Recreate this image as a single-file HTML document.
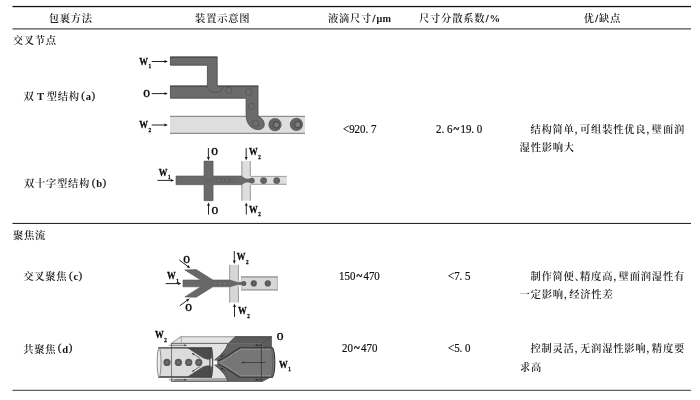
<!DOCTYPE html>
<html lang="zh-CN">
<head>
<meta charset="utf-8">
<title>液滴包裹方法对比</title>
<style>
html,body{margin:0;padding:0;background:#fff;}
body{width:700px;height:400px;position:relative;overflow:hidden;}
#fig{position:absolute;left:0;top:0;width:700px;height:400px;}
#sheet{position:absolute;left:0;top:0;width:700px;height:400px;filter:blur(0.3px);}
.t{position:absolute;white-space:nowrap;margin:0;font-family:"Liberation Serif","Noto Serif CJK SC",serif;font-size:10.3px;line-height:16px;height:16px;color:#1c1c1c;font-weight:600;letter-spacing:0.75px;}
.t .l{font-weight:400;color:#141414;display:inline-block;font-size:11px;-webkit-text-stroke:0.25px #141414;}
.t .pr{position:relative;top:-1.1px;}
.t .sl{font-size:12.5px;font-weight:400;-webkit-text-stroke:0.3px #1a1a1a;}
.t .lt{font-weight:700;-webkit-text-stroke:0;font-size:10.6px;}
.t .lb{font-weight:700;color:#1a1a1a;font-size:10.2px;display:inline-block;}
.t.n{font-weight:400;color:#141414;letter-spacing:0;font-size:12px;transform:scaleX(0.91);transform-origin:0 50%;-webkit-text-stroke:0.22px #141414;}
.t .p{display:inline-block;width:5.5px;letter-spacing:0;font-feature-settings:"halt" 1;}
svg text.w{font-family:"Liberation Serif",serif;font-weight:bold;font-size:11px;fill:#0a0a0a;stroke:#0a0a0a;stroke-width:0.28px;}
svg text .s{font-size:6.6px;}
</style>
</head>
<body>
<div id="sheet">
<svg id="fig" width="700" height="400" viewBox="0 0 700 400">
<rect x="12.5" y="5.9" width="678.5" height="1.3" fill="#141414"/>
<rect x="12.5" y="28.1" width="678.5" height="1.5" fill="#6a6a6a"/>
<rect x="12.5" y="222.9" width="678.5" height="1.05" fill="#202020"/>
<rect x="12.5" y="389.8" width="678.5" height="1.0" fill="#3a3a3a"/>
<g id="dia-a">
<rect x="170" y="116.1" width="135" height="17.5" fill="#dedede"/>
<rect x="170" y="115.8" width="135" height="1.1" fill="#848484"/>
<rect x="170" y="132.8" width="135" height="1.1" fill="#848484"/>
<path d="M170.4 56.9H217.2V85.9H258V116 C261.8 118 264.6 121 264.2 125 C263.8 128.8 260 130 256 129.3 C249.4 127.8 246.1 122 246.1 114 V98.2H170.4V85.9H207.4V65.2H170.4Z" fill="#6b6b6b" stroke="#484848" stroke-width="0.8" stroke-linejoin="miter"/>
<path d="M170 57.2H217.4 M170 86.2H207 M217.6 86.2H258.3" stroke="#454545" stroke-width="0.9" fill="none"/>
<path d="M207.3 86.4 C208 90.8 212.6 93.2 217.4 92.4 C220.4 91.9 222.4 89.8 222.4 87.2" stroke="#4c4c4c" stroke-width="0.8" fill="none"/>
<circle cx="228.8" cy="90.2" r="3.1" fill="#6d6d6d" stroke="#505050" stroke-width="0.7"/>
<circle cx="248.8" cy="92.0" r="3.3" fill="#6d6d6d" stroke="#505050" stroke-width="0.7"/>
<circle cx="251.5" cy="106.5" r="3.1" fill="#6d6d6d" stroke="#505050" stroke-width="0.7"/>
<circle cx="255.6" cy="123.4" r="3.4" fill="#6d6d6d" stroke="#505050" stroke-width="0.7"/>
<circle cx="275.0" cy="124.6" r="6.6" fill="#626262"/>
<circle cx="276.4" cy="124.89999999999999" r="3.1" fill="#7c7c7c" stroke="#3e3e3e" stroke-width="0.9"/>
<circle cx="296.4" cy="124.4" r="6.6" fill="#626262"/>
<circle cx="297.79999999999995" cy="124.7" r="3.1" fill="#7c7c7c" stroke="#3e3e3e" stroke-width="0.9"/>
<line x1="151.70" y1="61.50" x2="165.50" y2="61.50" stroke="#1a1a1a" stroke-width="0.95"/><polygon points="167.90,61.50 164.50,62.95 164.50,60.05" fill="#1a1a1a"/>
<line x1="151.70" y1="93.60" x2="165.50" y2="93.60" stroke="#1a1a1a" stroke-width="0.95"/><polygon points="167.90,93.60 164.50,95.05 164.50,92.15" fill="#1a1a1a"/>
<line x1="151.70" y1="125.00" x2="165.50" y2="125.00" stroke="#1a1a1a" stroke-width="0.95"/><polygon points="167.90,125.00 164.50,126.45 164.50,123.55" fill="#1a1a1a"/>
<text class="w" transform="translate(139.30 64.60) scale(0.79 1)">W<tspan class="s" dx="0.7" dy="3.3">1</tspan></text>
<text class="w" transform="translate(143.30 97.00) scale(0.79 1)">O</text>
<text class="w" transform="translate(139.30 128.20) scale(0.79 1)">W<tspan class="s" dx="0.7" dy="3.3">2</tspan></text>
</g>
<g id="dia-b">
<rect x="241.4" y="161.1" width="9.3" height="39.6" fill="#dedede"/>
<path d="M241.9 161.1V200.7 M250.3 161.1V176 M250.3 184.7V200.7" stroke="#a2a2a2" stroke-width="1.1" fill="none"/>
<rect x="250.2" y="176" width="36.5" height="8.7" fill="#dedede"/>
<path d="M250.7 176.4H286.7 M250.7 184.3H286.7" stroke="#a0a0a0" stroke-width="1" fill="none"/>
<path d="M176 176H204V161.1H213.1V176H241.4 C243.4 177.6 245 179 247 179.1 H251 V182.1 H247 C245 182.2 243.4 183.4 241.4 184.7 H213.1V200.7H204V184.7H176Z" fill="#6a6a6a" stroke="#545454" stroke-width="0.6"/>
<ellipse cx="218.2" cy="180.4" rx="2.0" ry="2.1" fill="#6e6e6e" stroke="#565656" stroke-width="0.6"/>
<ellipse cx="222.8" cy="180.4" rx="2.0" ry="2.1" fill="#6e6e6e" stroke="#565656" stroke-width="0.6"/>
<ellipse cx="227.6" cy="180.4" rx="2.0" ry="2.1" fill="#6e6e6e" stroke="#565656" stroke-width="0.6"/>
<ellipse cx="232.2" cy="180.4" rx="2.0" ry="2.1" fill="#6e6e6e" stroke="#565656" stroke-width="0.6"/>
<path d="M205 178.4L208.6 180.4L205 182.4 M212.4 178.4L208.8 180.4L212.4 182.4 M236 178.6L238.6 180.4L236 182.2" stroke="#5a5a5a" stroke-width="0.6" fill="none"/>
<circle cx="251.8" cy="180.6" r="2.9" fill="#626262"/>
<circle cx="263.6" cy="180.6" r="3.4" fill="#626262"/>
<circle cx="276.7" cy="180.6" r="3.4" fill="#626262"/>
<line x1="208.40" y1="148.00" x2="208.40" y2="158.00" stroke="#1a1a1a" stroke-width="0.95"/><polygon points="208.40,160.40 206.95,157.00 209.85,157.00" fill="#1a1a1a"/>
<line x1="246.20" y1="148.00" x2="246.20" y2="158.00" stroke="#1a1a1a" stroke-width="0.95"/><polygon points="246.20,160.40 244.75,157.00 247.65,157.00" fill="#1a1a1a"/>
<line x1="208.50" y1="214.60" x2="208.50" y2="204.80" stroke="#1a1a1a" stroke-width="0.95"/><polygon points="208.50,202.40 209.95,205.80 207.05,205.80" fill="#1a1a1a"/>
<line x1="246.30" y1="214.60" x2="246.30" y2="204.80" stroke="#1a1a1a" stroke-width="0.95"/><polygon points="246.30,202.40 247.75,205.80 244.85,205.80" fill="#1a1a1a"/>
<line x1="157.50" y1="180.40" x2="171.80" y2="180.40" stroke="#1a1a1a" stroke-width="0.95"/><polygon points="174.20,180.40 170.80,181.85 170.80,178.95" fill="#1a1a1a"/>
<text class="w" transform="translate(211.30 155.40) scale(0.79 1)">O</text>
<text class="w" transform="translate(248.90 155.40) scale(0.79 1)">W<tspan class="s" dx="0.7" dy="3.3">2</tspan></text>
<text class="w" transform="translate(211.60 213.50) scale(0.79 1)">O</text>
<text class="w" transform="translate(249.10 213.00) scale(0.79 1)">W<tspan class="s" dx="0.7" dy="3.3">2</tspan></text>
<text class="w" transform="translate(158.70 175.80) scale(0.79 1)">W<tspan class="s" dx="0.7" dy="3.3">1</tspan></text>
</g>
<g id="dia-c">
<rect x="229.2" y="264.8" width="9.6" height="37.7" fill="#d7d7d7"/>
<path d="M229.7 264.8V302.5 M238.4 264.8V280.6 M238.4 286.6V302.5" stroke="#9c9c9c" stroke-width="1" fill="none"/>
<rect x="238.6" y="280.6" width="3" height="6" fill="#d7d7d7"/>
<rect x="241" y="276.3" width="36.8" height="14.2" fill="#d7d7d7"/>
<path d="M241 277H277.8 M241 289.9H277.8" stroke="#9c9c9c" stroke-width="1.3" fill="none"/>
<path d="M241.4 276.3V280.6 M241.4 286.6V290.5 M277.4 276.3V290.5" stroke="#b0b0b0" stroke-width="0.8" fill="none"/>
<path d="M183 280H200.7L184.8 269.9L196.2 269.6L212.9 280H229.4 C233 280.8 236 282.3 239 282.5 H243 V284.4 H239 C236 284.6 233 286 229.4 286.8 H212.9L196.2 297.2L184.8 296.9L200.7 286.8H183Z" fill="#686868" stroke="#545454" stroke-width="0.6"/>
<ellipse cx="215.5" cy="283.4" rx="2" ry="1.8" fill="#747474" stroke="#585858" stroke-width="0.6"/>
<ellipse cx="220.2" cy="283.4" rx="2" ry="1.8" fill="#747474" stroke="#585858" stroke-width="0.6"/>
<ellipse cx="224.8" cy="283.4" rx="2" ry="1.8" fill="#747474" stroke="#585858" stroke-width="0.6"/>
<circle cx="243.8" cy="283.4" r="2.5" fill="#585858"/>
<circle cx="243.8" cy="283.4" r="1" fill="#6e6e6e"/>
<circle cx="253.8" cy="283.4" r="3.1" fill="#585858"/>
<circle cx="253.8" cy="283.4" r="1" fill="#6e6e6e"/>
<circle cx="267.8" cy="283.4" r="3.1" fill="#585858"/>
<circle cx="267.8" cy="283.4" r="1" fill="#6e6e6e"/>
<line x1="234.30" y1="251.00" x2="234.30" y2="261.60" stroke="#1a1a1a" stroke-width="0.95"/><polygon points="234.30,264.00 232.85,260.60 235.75,260.60" fill="#1a1a1a"/>
<line x1="234.50" y1="317.00" x2="234.50" y2="306.00" stroke="#1a1a1a" stroke-width="0.95"/><polygon points="234.50,303.60 235.95,307.00 233.05,307.00" fill="#1a1a1a"/>
<line x1="165.70" y1="283.60" x2="179.00" y2="283.60" stroke="#1a1a1a" stroke-width="0.95"/><polygon points="181.40,283.60 178.00,285.05 178.00,282.15" fill="#1a1a1a"/>
<line x1="179.30" y1="260.00" x2="188.28" y2="266.76" stroke="#1a1a1a" stroke-width="0.95"/><polygon points="190.20,268.20 186.61,267.31 188.35,265.00" fill="#1a1a1a"/>
<line x1="179.70" y1="305.80" x2="187.66" y2="300.01" stroke="#1a1a1a" stroke-width="0.95"/><polygon points="189.60,298.60 187.70,301.77 186.00,299.43" fill="#1a1a1a"/>
<text class="w" transform="translate(236.70 260.20) scale(0.79 1)">W<tspan class="s" dx="0.7" dy="3.3">2</tspan></text>
<text class="w" transform="translate(237.90 314.30) scale(0.79 1)">W<tspan class="s" dx="0.7" dy="3.3">2</tspan></text>
<text class="w" transform="translate(166.90 279.20) scale(0.79 1)">W<tspan class="s" dx="0.7" dy="3.3">1</tspan></text>
<text class="w" transform="translate(183.30 263.20) scale(0.79 1)">O</text>
<text class="w" transform="translate(185.30 310.60) scale(0.79 1)">O</text>
</g>
<g id="dia-d">
<polygon points="171.4,343.4 181.3,336.3 271.8,336.3 262.4,343.4" fill="#d2d2d2"/>
<polygon points="174.5,342.0 180.8,338.0 268,338.0 263,342.0" fill="#e4e4e4"/>
<rect x="171.4" y="343.4" width="91" height="38.2" fill="#e2e2e2"/>
<polygon points="171.4,381.8 262.4,381.8 271.6,376.8 176,379.0" fill="#a4a4a4"/>
<polygon points="227.8,343.6 234.9,336.5 271.9,336.5 271.9,376.8 262.4,381.8 262.4,343.6" fill="#5c5c5c"/>
<path d="M227.8 343.6 H262.4 V381.8 H228 C226.6 376 221.5 370 214.6 365 V360 C221.5 355 226.4 349 227.8 343.6Z" fill="#626262"/>
<path d="M227.8 343.6 C226.4 349 221.5 355 214.6 360 M214.6 365 C221.5 370 226.6 376 228 381.8" stroke="#3a3a3a" stroke-width="0.8" fill="none"/>
<path d="M171.4 343.5H262.4" stroke="#6a6a6a" stroke-width="0.9"/>
<path d="M181.3 336.6H235" stroke="#a0a0a0" stroke-width="0.8"/>
<path d="M235 336.8H271.8" stroke="#3e3e3e" stroke-width="0.9"/>
<path d="M181.3 336.4V343.4" stroke="#8a8a8a" stroke-width="0.6" fill="none"/>
<path d="M171.4 343.2L181.3 336.3" stroke="#7a7a7a" stroke-width="0.7"/>
<path d="M171.4 381.4H262.4" stroke="#666" stroke-width="1"/>
<path d="M262.4 343.5L271.8 336.6" stroke="#444" stroke-width="0.6"/>
<path d="M217.4 361 C224 359.4 231 353 240 347.7 H272.4 C275.6 352 275.6 373 272.4 377.3 H240 C231 372 224 365.6 217.4 364Z" fill="#767676" stroke="#323232" stroke-width="1.1"/>
<path d="M221 361.4 C227 359 233 353.6 241 349.4 H271" stroke="#b8b8b8" stroke-width="0.6" stroke-dasharray="1.6 1.2" fill="none"/>
<path d="M221 363.6 C227 366 233 371.4 241 375.6 H271" stroke="#b8b8b8" stroke-width="0.6" stroke-dasharray="1.6 1.2" fill="none"/>
<path d="M261.4 343.6V381.6" stroke="#383838" stroke-width="0.8"/>
<path d="M271.4 347.8 C273 354 273 371 271.4 377.2" stroke="#5a5a5a" stroke-width="0.8" fill="none"/>
<line x1="265.60" y1="362.50" x2="243.00" y2="362.50" stroke="#2e2e2e" stroke-width="0.7"/><polygon points="241.00,362.50 244.00,361.40 244.00,363.60" fill="#2e2e2e"/>
<line x1="263.00" y1="345.20" x2="256.40" y2="345.20" stroke="#2a2a2a" stroke-width="0.6"/><polygon points="254.80,345.20 257.40,344.20 257.40,346.20" fill="#2a2a2a"/>
<line x1="263.00" y1="379.80" x2="256.40" y2="379.80" stroke="#2a2a2a" stroke-width="0.6"/><polygon points="254.80,379.80 257.40,378.80 257.40,380.80" fill="#2a2a2a"/>
<line x1="225.00" y1="354.20" x2="221.57" y2="356.44" stroke="#2a2a2a" stroke-width="0.6"/><polygon points="220.40,357.20 221.86,355.05 222.96,356.73" fill="#2a2a2a"/>
<line x1="225.00" y1="370.80" x2="221.57" y2="368.56" stroke="#2a2a2a" stroke-width="0.6"/><polygon points="220.40,367.80 222.96,368.27 221.86,369.95" fill="#2a2a2a"/>
<rect x="158.4" y="347.6" width="53.4" height="29.6" fill="#dcdcdc"/>
<path d="M187.4 348 L203.2 358.2 L207 359.4 H212 V348Z" fill="#4c4c4c"/>
<path d="M187.4 376.8 L203.2 366.6 L207 365.4 H212 V376.8Z" fill="#4c4c4c"/>
<path d="M158.2 347.9H212 M158.2 377H212" stroke="#3a3a3a" stroke-width="1.3" fill="none"/>
<ellipse cx="159.1" cy="362.4" rx="1.9" ry="14.4" fill="#ececec" stroke="#808080" stroke-width="0.9"/>
<ellipse cx="211.3" cy="362.4" rx="1.5" ry="14.5" fill="#565656" stroke="#3a3a3a" stroke-width="0.8"/>
<ellipse cx="211.2" cy="362.4" rx="0.7" ry="4.6" fill="#f2f2f2"/>
<rect x="213.7" y="360.6" width="3.7" height="3.9" fill="#fbfbfb"/>
<path d="M171.5 342.8V381.6" stroke="#505050" stroke-width="0.7"/>
<circle cx="167.0" cy="362.4" r="3.6" fill="#5a5a5a"/>
<circle cx="167.0" cy="362.4" r="1.2" fill="#7a7a7a"/>
<circle cx="178.4" cy="362.4" r="3.6" fill="#5a5a5a"/>
<circle cx="178.4" cy="362.4" r="1.2" fill="#7a7a7a"/>
<circle cx="188.7" cy="362.4" r="3.6" fill="#5a5a5a"/>
<circle cx="188.7" cy="362.4" r="1.2" fill="#7a7a7a"/>
<circle cx="198.8" cy="362.4" r="3.6" fill="#5a5a5a"/>
<circle cx="198.8" cy="362.4" r="1.2" fill="#7a7a7a"/>
<line x1="200.40" y1="358.60" x2="192.97" y2="353.76" stroke="#2a2a2a" stroke-width="0.6"/><polygon points="191.80,353.00 194.36,353.47 193.27,355.15" fill="#2a2a2a"/>
<line x1="200.40" y1="366.20" x2="192.97" y2="371.04" stroke="#2a2a2a" stroke-width="0.6"/><polygon points="191.80,371.80 193.27,369.65 194.36,371.33" fill="#2a2a2a"/>
<line x1="168.90" y1="345.30" x2="185.40" y2="345.30" stroke="#3a3a3a" stroke-width="0.6"/><polygon points="187.00,345.30 184.40,346.30 184.40,344.30" fill="#3a3a3a"/>
<line x1="168.90" y1="379.80" x2="185.40" y2="379.80" stroke="#3a3a3a" stroke-width="0.6"/><polygon points="187.00,379.80 184.40,380.80 184.40,378.80" fill="#3a3a3a"/>
<text class="w" transform="translate(155.00 338.30) scale(0.79 1)">W<tspan class="s" dx="0.7" dy="3.3">2</tspan></text>
<text class="w" transform="translate(276.70 340.40) scale(0.79 1)">O</text>
<text class="w" transform="translate(279.10 368.00) scale(0.79 1)">W<tspan class="s" dx="0.7" dy="3.3">1</tspan></text>
</g>
</svg>
<div class="t " style="left:48.70px;top:10.90px;">包裹方法</div>
<div class="t " style="left:195.10px;top:10.90px;">装置示意图</div>
<div class="t " style="left:327.90px;top:10.90px;">液滴尺寸<span class="lb sl" style="letter-spacing:0px;margin-left:0.5px">/</span><span class="lb" style="letter-spacing:0.4px;margin-left:1.0px">μm</span></div>
<div class="t " style="left:419.00px;top:10.90px;">尺寸分散系数<span class="lb sl" style="letter-spacing:0px;margin-left:0.5px">/</span><span class="l lt" style="letter-spacing:0px;margin-left:0.8px">%</span></div>
<div class="t " style="left:583.80px;top:10.90px;">优<span class="lb sl" style="letter-spacing:0px;margin-left:0.5px">/</span><span style="margin-left:0.8px">缺点</span></div>
<div class="t " style="left:12.70px;top:32.90px;">交叉节点</div>
<div class="t " style="left:13.00px;top:227.60px;">聚焦流</div>
<div class="t " style="left:23.40px;top:88.20px;">双<span class="l lt" style="letter-spacing:0px;margin-left:2.6px">T</span><span style="margin-left:2.6px">型结构</span><span class="l" style="margin-left:1.5px"><span class="pr">(</span><span class="lt" style="margin:0 -0.3px 0 0.1px">a</span><span class="pr">)</span></span></div>
<div class="t " style="left:23.90px;top:175.20px;">双十字型结构<span class="l" style="margin-left:1.5px"><span class="pr">(</span><span class="lt" style="margin:0 -0.3px 0 0.1px">b</span><span class="pr">)</span></span></div>
<div class="t " style="left:23.20px;top:268.00px;">交叉聚焦<span class="l" style="margin-left:1.5px"><span class="pr">(</span><span class="lt" style="margin:0 -0.3px 0 0.1px">c</span><span class="pr">)</span></span></div>
<div class="t " style="left:23.20px;top:340.50px;">共聚焦<span class="l" style="margin-left:1.5px"><span class="pr">(</span><span class="lt" style="margin:0 -0.3px 0 0.1px">d</span><span class="pr">)</span></span></div>
<div class="t n" style="left:343.20px;top:120.60px;">&lt;920. 7</div>
<div class="t n" style="left:435.60px;top:120.60px;">2. 6<span style="margin:0 1.3px;font-weight:700">~</span>19. 0</div>
<div class="t n" style="left:339.30px;top:267.80px;">150<span style="margin:0 1.3px;font-weight:700">~</span>470</div>
<div class="t n" style="left:448.40px;top:267.80px;">&lt;7. 5</div>
<div class="t n" style="left:341.80px;top:340.10px;">20<span style="margin:0 1.3px;font-weight:700">~</span>470</div>
<div class="t n" style="left:448.40px;top:340.10px;">&lt;5. 0</div>
<div class="t " style="left:530.40px;top:121.60px;">结构简单<span class="p">，</span>可组装性优良<span class="p">，</span>壁面润</div>
<div class="t " style="left:519.60px;top:139.60px;">湿性影响大</div>
<div class="t " style="left:530.40px;top:268.60px;">制作简便<span class="p">、</span>精度高<span class="p">，</span>壁面润湿性有</div>
<div class="t " style="left:519.60px;top:286.60px;">一定影响<span class="p">，</span>经济性差</div>
<div class="t " style="left:530.40px;top:340.60px;">控制灵活<span class="p">，</span>无润湿性影响<span class="p">，</span>精度要</div>
<div class="t " style="left:520.00px;top:359.60px;">求高</div>
</div>
</body>
</html>
